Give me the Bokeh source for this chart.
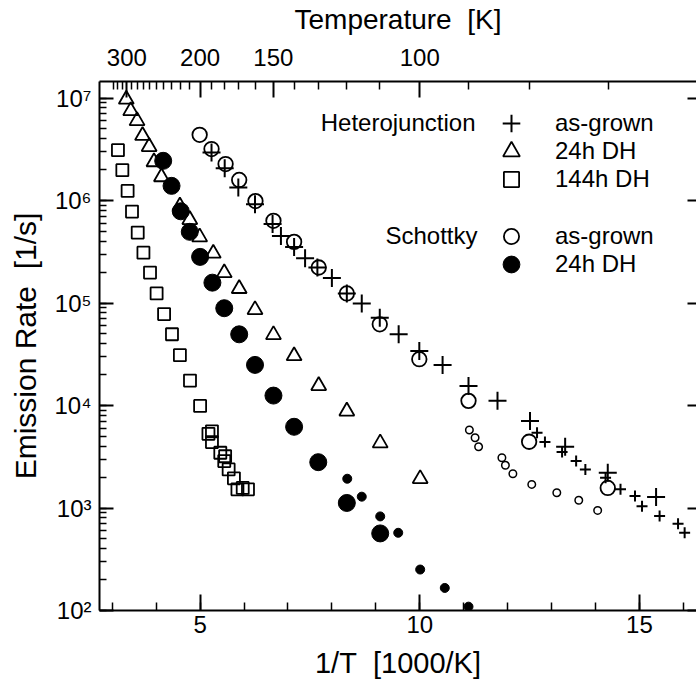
from bokeh.plotting import figure
from bokeh.models import (Range1d, LinearAxis, LogAxis, FixedTicker, SingleIntervalTicker,
                          LogTicker, CustomJSTickFormatter, Legend, LegendItem, Label)
from bokeh.embed import file_html
from bokeh.resources import INLINE

# ---------------- data (1/T in 1000/K, emission rate in 1/s) ----------------
het_ag_x = [5.26, 5.56, 5.87, 6.25, 6.65, 6.84, 7.14, 7.39, 7.67, 8.00, 8.34, 8.68, 9.09,
            9.52, 9.99, 10.52, 11.11, 11.77, 12.51, 13.31, 14.28, 15.38]
het_ag_y = [2.94e6, 2.07e6, 1.34e6, 9.2e5, 5.9e5, 4.52e5, 3.53e5, 2.74e5, 2.22e5, 1.75e5,
            1.24e5, 9.87e4, 7.2e4, 4.95e4, 3.4e4, 2.49e4, 1.55e4, 1.11e4, 7.06e3, 3.96e3,
            2.21e3, 1.28e3]
het_ag_small_x = [12.67, 12.85, 13.24, 13.56, 13.77, 14.23, 14.57, 14.90, 15.06, 15.46, 15.88, 16.03]
het_ag_small_y = [5.42e3, 4.4e3, 3.52e3, 2.87e3, 2.38e3, 1.97e3, 1.52e3, 1.31e3, 1.04e3, 834, 701, 573]

het_24_x = [3.32, 3.42, 3.565, 3.69, 3.84, 3.95, 4.12, 4.54, 4.765, 4.99, 5.30, 5.55, 5.89,
            6.25, 6.67, 7.14, 7.70, 8.34, 9.10, 10.01]
het_24_y = [9.7e6, 7.5e6, 6.0e6, 4.3e6, 3.35e6, 2.38e6, 1.7e6, 8.8e5, 6.5e5, 4.4e5, 3.05e5,
            1.97e5, 1.38e5, 8.6e4, 4.9e4, 3.05e4, 1.56e4, 8.8e3, 4.3e3, 1.93e3]

het_144_x = [3.13, 3.23, 3.35, 3.45, 3.58, 3.71, 3.86, 4.01, 4.18, 4.36, 4.54, 4.77, 5.00,
             5.27, 5.19, 5.27, 5.46, 5.57, 5.55, 5.65, 5.77, 5.85, 5.97, 6.09]
het_144_y = [3.1e6, 1.98e6, 1.24e6, 7.8e5, 4.87e5, 3.1e5, 1.98e5, 1.24e5, 7.8e4, 4.96e4,
             3.1e4, 1.75e4, 9.9e3, 5.6e3, 5.3e3, 4.4e3, 3.46e3, 3.2e3, 2.87e3, 2.38e3,
             1.95e3, 1.52e3, 1.57e3, 1.52e3]

sch_ag_x = [4.99, 5.26, 5.58, 5.89, 6.26, 6.67, 7.14, 7.70, 8.34, 9.09, 9.99, 11.11, 12.49, 14.28]
sch_ag_y = [4.38e6, 3.18e6, 2.27e6, 1.59e6, 9.87e5, 6.34e5, 3.95e5, 2.22e5, 1.24e5, 6.2e4,
            2.83e4, 1.11e4, 4.43e3, 1.57e3]
sch_ag_small_x = [11.13, 11.26, 11.34, 11.87, 11.95, 12.12, 12.55, 13.12, 13.62, 14.05]
sch_ag_small_y = [5.77e3, 4.85e3, 3.96e3, 3.09e3, 2.61e3, 2.16e3, 1.70e3, 1.41e3, 1.19e3, 948]

sch_24_x = [4.16, 4.35, 4.56, 4.765, 5.00, 5.28, 5.55, 5.89, 6.25, 6.67, 7.14, 7.69, 8.34, 9.10]
sch_24_y = [2.44e6, 1.39e6, 7.85e5, 4.95e5, 2.82e5, 1.58e5, 8.9e4, 4.95e4, 2.49e4, 1.25e4,
            6.2e3, 2.8e3, 1.12e3, 565]
sch_24_small_x = [8.35, 8.68, 9.10, 9.51, 10.01, 10.57, 11.11]
sch_24_small_y = [1.93e3, 1.29e3, 828, 573, 251, 166, 109]

# top (temperature) axis ticks, in K
temp_major = [300, 200, 150, 100]
temp_minor = [330, 320, 310, 290, 280, 270, 260, 250, 240, 230, 220, 210,
              190, 180, 170, 160, 140, 130, 120, 110, 90, 80, 70]

FONT = "Liberation Sans"
FRAME_W = 597
FRAME_H = 529

p = figure(frame_width=FRAME_W, frame_height=FRAME_H,
           x_range=Range1d(2.71, 16.30), y_range=Range1d(100, 1.45e7),
           y_axis_type="log", output_backend="svg", toolbar_location=None,
           min_border_left=99, min_border_top=81, min_border_bottom=76, min_border_right=0,
           background_fill_color="white", border_fill_color="white")
p.grid.visible = False
p.outline_line_color = None


def style_axis(ax, tick_in, minor_in, label_size="24px"):
    ax.axis_line_color = "black"
    ax.axis_line_width = 2
    ax.major_tick_line_color = "black"
    ax.major_tick_line_width = 2
    ax.minor_tick_line_color = "black"
    ax.minor_tick_line_width = 1.5
    ax.major_tick_in = tick_in
    ax.major_tick_out = 0
    ax.minor_tick_in = minor_in
    ax.minor_tick_out = 0
    ax.major_label_text_font = FONT
    ax.major_label_text_font_size = label_size
    ax.major_label_text_color = "black"
    ax.axis_label_text_font = FONT
    ax.axis_label_text_font_style = "normal"
    ax.axis_label_text_color = "black"


# bottom axis
xa = p.xaxis[0]
xa.ticker = SingleIntervalTicker(interval=5, num_minor_ticks=5)
style_axis(xa, 16, 8)
xa.major_label_standoff = 5
xa.axis_label = "1/T\u00a0 [1000/K]"
xa.axis_label_text_font_size = "29px"
xa.axis_label_standoff = 11

# left axis
ya = p.yaxis[0]
ya.ticker = LogTicker(num_minor_ticks=10, desired_num_ticks=8)
style_axis(ya, 14, 7)
ya.major_label_standoff = 8
ya.formatter = CustomJSTickFormatter(code="""
const sup = {"0":"\u2070","1":"\u00b9","2":"\u00b2","3":"\u00b3","4":"\u2074",
             "5":"\u2075","6":"\u2076","7":"\u2077","8":"\u2078","9":"\u2079","-":"\u207b"};
const e = Math.round(Math.log10(tick));
return "10" + String(e).split("").map(c => sup[c]).join("");
""")
ya.axis_label = "Emission Rate\u00a0 [1/s]"
ya.axis_label_text_font_size = "30px"
ya.axis_label_standoff = 9

# top axis: temperature
ta = LinearAxis(ticker=FixedTicker(ticks=[1000.0 / t for t in temp_major],
                                   minor_ticks=[1000.0 / t for t in temp_minor]))
style_axis(ta, 16, 8)
ta.major_label_overrides = {1000.0 / t: str(t) for t in temp_major}
ta.major_label_standoff = 16
ta.axis_label = "Temperature\u00a0 [K]"
ta.axis_label_text_font_size = "28px"
ta.axis_label_standoff = 11
p.add_layout(ta, "above")

# right axis: inward decade ticks only
ra = LogAxis(ticker=LogTicker(num_minor_ticks=0, desired_num_ticks=8))
style_axis(ra, 9, 0)
ra.axis_line_alpha = 0
ra.formatter = CustomJSTickFormatter(code="return '';")
ra.major_label_standoff = 0
p.add_layout(ra, "right")

# ---------------- data marks ----------------
r_het_ag = p.scatter(het_ag_x, het_ag_y, marker="cross", size=18, line_color="black", line_width=2)
p.scatter(het_ag_small_x, het_ag_small_y, marker="cross", size=11, line_color="black", line_width=2)
r_het_24 = p.scatter(het_24_x, het_24_y, marker="triangle", size=15, fill_color=None,
                     line_color="black", line_width=1.8)
r_het_144 = p.scatter(het_144_x, het_144_y, marker="square", size=12, fill_color=None,
                      line_color="black", line_width=1.8)
r_sch_ag = p.scatter(sch_ag_x, sch_ag_y, marker="circle", size=14.5, fill_color=None,
                     line_color="black", line_width=1.8)
p.scatter(sch_ag_small_x, sch_ag_small_y, marker="circle", size=7.5, fill_color=None,
          line_color="black", line_width=1.5)
r_sch_24 = p.scatter(sch_24_x, sch_24_y, marker="circle", size=17, fill_color="black",
                     line_color="black", line_width=1)
p.scatter(sch_24_small_x, sch_24_small_y, marker="circle", size=9, fill_color="black",
          line_color="black", line_width=1)

# ---------------- legend (one legend per row so markers keep their size) ----------------
GLYPH_CX = 412      # marker centre, px from frame left
LABEL_X = 456       # label start, px from frame left
LEG_FONT = "24px"


def add_row(renderer, text, row_from_top, gw):
    leg = Legend(items=[LegendItem(label=text, renderers=[renderer])],
                 location=(GLYPH_CX - gw / 2, FRAME_H - row_from_top - gw / 2),
                 glyph_width=gw, glyph_height=gw, label_height=gw,
                 label_standoff=int(round(LABEL_X - (GLYPH_CX + gw / 2))),
                 padding=0, margin=0, spacing=0,
                 border_line_color=None, background_fill_alpha=0,
                 label_text_font=FONT, label_text_font_size=LEG_FONT,
                 label_text_color="black")
    p.add_layout(leg)


add_row(r_het_ag, "as-grown", 42.0, 44)
add_row(r_het_24, "24h DH", 70.0, 42)
add_row(r_het_144, "144h DH", 98.0, 38)
add_row(r_sch_ag, "as-grown", 155.0, 38)
add_row(r_sch_24, "24h DH", 183.0, 42)

for txt, x, y in [("Heterojunction", 376, FRAME_H - 41.0), ("Schottky", 378, FRAME_H - 154.0)]:
    p.add_layout(Label(x=x, y=y, x_units="screen", y_units="screen", text=txt,
                       text_align="right", text_baseline="middle",
                       text_font=FONT, text_font_size=LEG_FONT, text_color="black"))

open("out.html", "w").write(file_html(p, INLINE))
